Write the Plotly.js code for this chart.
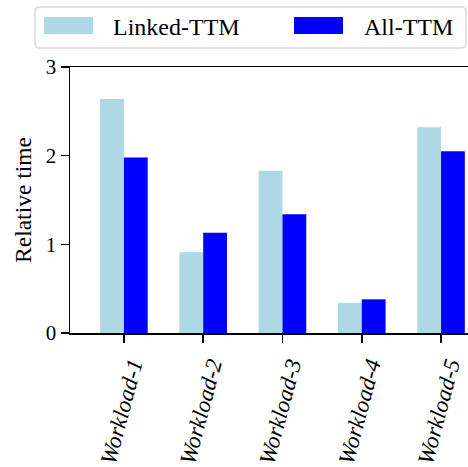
<!DOCTYPE html>
<html>
<head>
<meta charset="utf-8">
<script src="https://cdn.plot.ly/plotly-3.0.1.min.js"></script>
<style>html,body{margin:0;padding:0;background:#fff;overflow:hidden;}#chart{width:468px;height:467px;}</style>
</head>
<body>
<div id="chart"></div>
<script>
const categories = ["Workload-1", "Workload-2", "Workload-3", "Workload-4", "Workload-5"];
const seriesNames = ["Linked-TTM", "All-TTM"];
const linkedTTM = [2.64, 0.91, 1.83, 0.34, 2.32];
const allTTM = [1.98, 1.13, 1.34, 0.38, 2.05];
const yTicks = [0, 1, 2, 3];

const FONT = "Liberation Serif";
const COLORS = ["#ADD8E6", "#0000FF"];
const seriesValues = [linkedTTM, allTTM];

const traces = seriesNames.map((name, i) => ({
  type: "bar", name: name, x: categories, y: seriesValues[i],
  marker: {color: COLORS[i], line: {width: 0}}, showlegend: false
}));

// Plot area in pixels: left 70, right 468, top 67, bottom 333
const L = 70, R = 468, T = 67, B = 333;
const px = v => (v - L) / (R - L);
const py = v => (B - v) / (B - T);

// Legend (framed box with colour patches and real text labels)
function roundedRect(x0, y0, x1, y1, r) {
  const X0 = px(x0), X1 = px(x1), Y0 = py(y1), Y1 = py(y0);
  const rx = r / (R - L), ry = r / (B - T);
  return `M ${X0 + rx},${Y0} L ${X1 - rx},${Y0} Q ${X1},${Y0} ${X1},${Y0 + ry} ` +
         `L ${X1},${Y1 - ry} Q ${X1},${Y1} ${X1 - rx},${Y1} ` +
         `L ${X0 + rx},${Y1} Q ${X0},${Y1} ${X0},${Y1 - ry} ` +
         `L ${X0},${Y0 + ry} Q ${X0},${Y0} ${X0 + rx},${Y0} Z`;
}
const legendPatchX = [44, 294];
const legendTextX = [111, 362];
const shapes = [{
  type: "path", xref: "paper", yref: "paper", layer: "above",
  path: roundedRect(35, 7, 466, 48, 5),
  line: {color: "#d9d9d9", width: 1.5}, fillcolor: "rgba(255,255,255,0.8)"
}];
const annotations = [];
seriesNames.forEach((name, i) => {
  shapes.push({
    type: "rect", xref: "paper", yref: "paper", layer: "above",
    x0: px(legendPatchX[i]), x1: px(legendPatchX[i] + 49),
    y0: py(34), y1: py(17),
    fillcolor: COLORS[i], line: {width: 0}
  });
  annotations.push({
    xref: "paper", yref: "paper", x: px(legendTextX[i]), y: py(26.5),
    xanchor: "left", yanchor: "middle", showarrow: false,
    text: name, font: {family: FONT, size: 24, color: "#000"}
  });
});

const layout = {
  width: 468, height: 467,
  margin: {l: L, r: 0, t: T, b: 467 - B},
  paper_bgcolor: "#fff", plot_bgcolor: "#fff",
  font: {family: FONT, size: 21, color: "#000"},
  barmode: "group", bargap: 0.4, bargroupgap: 0,
  showlegend: false,
  shapes: shapes,
  annotations: annotations,
  xaxis: {
    type: "category", range: [-0.68, 4.34],
    showline: true, linecolor: "#000", linewidth: 1.5, mirror: true,
    ticks: "outside", ticklen: 8, tickwidth: 1.5, tickcolor: "#000",
    tickangle: -75, ticklabelshift: 8, showgrid: false, zeroline: false,
    tickfont: {family: FONT, size: 23, style: "italic", color: "#000"}
  },
  yaxis: {
    range: [0, 3], tickvals: yTicks,
    showline: true, linecolor: "#000", linewidth: 1.5,
    ticks: "outside", ticklen: 8, tickwidth: 1.5, tickcolor: "#000",
    showgrid: false, zeroline: false,
    title: {text: "Relative time", font: {family: FONT, size: 23.5, color: "#000"}, standoff: 7},
    tickfont: {family: FONT, size: 21, color: "#000"}
  }
};

Plotly.newPlot("chart", traces, layout, {displayModeBar: false, staticPlot: true});
</script>
</body>
</html>
